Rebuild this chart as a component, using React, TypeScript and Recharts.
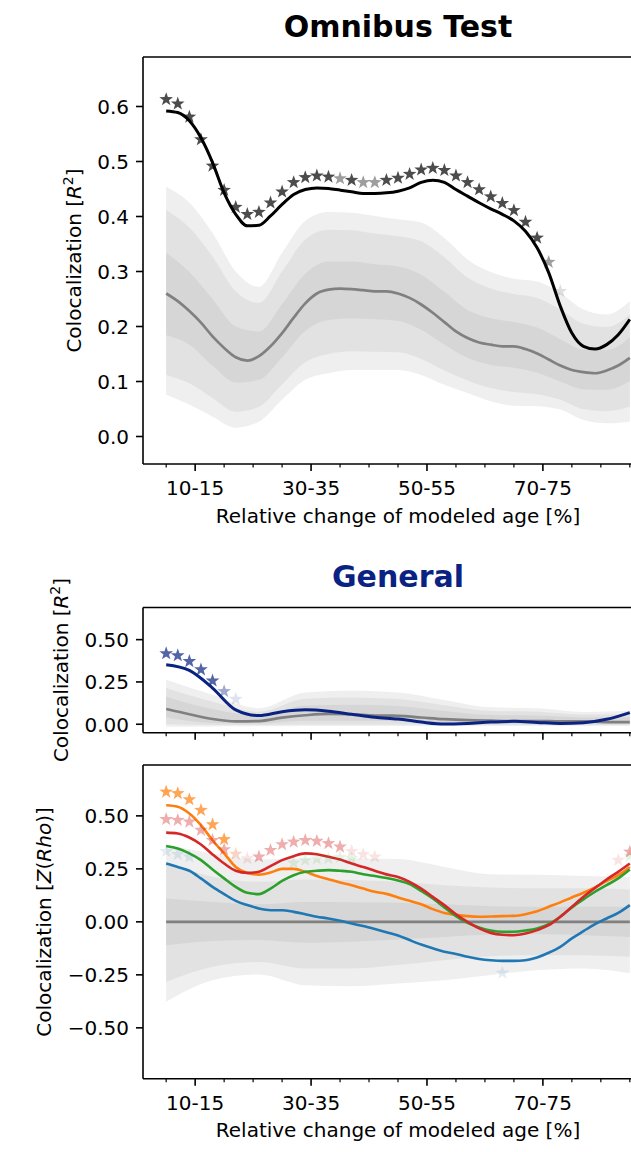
import React from 'react';
import { ComposedChart, Area, Line, Scatter, XAxis, YAxis, ReferenceLine } from 'recharts';

const FONT = '"DejaVu Sans", Verdana, sans-serif';

// relative change of modeled age [%]
const X_FINE = [5, 7, 9, 11, 13, 15, 17, 19, 21, 23, 25, 27, 29, 31, 33, 35, 37, 39, 41, 43, 45, 47, 49, 51, 53, 55, 57, 59, 61, 63, 65, 67, 69, 71, 73, 75, 77, 79, 81, 83, 85];
const X_MID = [5, 9, 13, 17, 21, 25, 29, 33, 37, 41, 45, 49, 53, 57, 61, 65, 69, 73, 77, 81, 85];
const X_COARSE = [5, 13, 21, 29, 37, 45, 53, 61, 69, 77, 85];
const X_TICKS = [5, 10, 15, 20, 25, 30, 35, 40, 45, 50, 55, 60, 65, 70, 75, 80, 85];
const X_LABEL_AT = [10, 30, 50, 70];
const X_LABEL_TEXT = ['10-15', '30-35', '50-55', '70-75'];
const X_DOMAIN = [1, 89];

// ---- Omnibus test (R^2) ----
const OMNI_OBSERVED = [0.592, 0.589, 0.574, 0.543, 0.498, 0.443, 0.404, 0.383, 0.384, 0.401, 0.422, 0.440, 0.449, 0.452, 0.451, 0.448, 0.445, 0.442, 0.442, 0.443, 0.446, 0.452, 0.462, 0.466, 0.462, 0.449, 0.437, 0.425, 0.414, 0.404, 0.392, 0.373, 0.343, 0.298, 0.237, 0.188, 0.164, 0.159, 0.167, 0.185, 0.213];
const OMNI_NULL_MEDIAN = [0.260, 0.246, 0.228, 0.207, 0.182, 0.161, 0.144, 0.138, 0.146, 0.164, 0.188, 0.216, 0.242, 0.260, 0.267, 0.269, 0.268, 0.266, 0.264, 0.264, 0.260, 0.252, 0.240, 0.225, 0.208, 0.191, 0.179, 0.171, 0.167, 0.164, 0.164, 0.159, 0.151, 0.140, 0.129, 0.121, 0.117, 0.115, 0.120, 0.129, 0.143];
const OMNI_STAR_X = [5, 7, 9, 11, 13, 15, 17, 19, 21, 23, 25, 27, 29, 31, 33, 35, 37, 39, 41, 43, 45, 47, 49, 51, 53, 55, 57, 59, 61, 63, 65, 67, 69, 71, 73];
const OMNI_STARS = [0.613, 0.605, 0.581, 0.540, 0.492, 0.448, 0.417, 0.404, 0.408, 0.425, 0.445, 0.462, 0.471, 0.474, 0.472, 0.469, 0.466, 0.462, 0.462, 0.466, 0.470, 0.477, 0.485, 0.488, 0.484, 0.474, 0.462, 0.449, 0.436, 0.424, 0.411, 0.390, 0.361, 0.317, 0.264];
const OMNI_STAR_SIG = [3, 3, 3, 3, 3, 3, 3, 3, 3, 3, 3, 3, 3, 3, 3, 2, 3, 2, 2, 3, 3, 3, 3, 3, 3, 3, 3, 3, 3, 3, 3, 3, 3, 2, 1];
const OMNI_OUTER_LO = [0.076, 0.058, 0.036, 0.016, 0.027, 0.067, 0.103, 0.115, 0.121, 0.121, 0.121, 0.112, 0.094, 0.079, 0.064, 0.056, 0.055, 0.049, 0.030, 0.024, 0.027];
const OMNI_OUTER_HI = [0.454, 0.425, 0.370, 0.300, 0.272, 0.334, 0.392, 0.408, 0.407, 0.401, 0.395, 0.389, 0.361, 0.322, 0.299, 0.287, 0.282, 0.261, 0.231, 0.222, 0.246];
const OMNI_MID_LO = [0.112, 0.097, 0.070, 0.045, 0.054, 0.095, 0.135, 0.150, 0.155, 0.154, 0.153, 0.141, 0.120, 0.102, 0.088, 0.081, 0.077, 0.067, 0.050, 0.046, 0.054];
const OMNI_MID_HI = [0.412, 0.380, 0.327, 0.264, 0.243, 0.300, 0.358, 0.376, 0.375, 0.369, 0.364, 0.355, 0.326, 0.289, 0.269, 0.259, 0.252, 0.231, 0.205, 0.199, 0.222];
const OMNI_INNER_LO = [0.184, 0.167, 0.129, 0.098, 0.103, 0.144, 0.192, 0.212, 0.215, 0.213, 0.210, 0.194, 0.167, 0.143, 0.130, 0.125, 0.116, 0.100, 0.086, 0.085, 0.101];
const OMNI_INNER_HI = [0.334, 0.299, 0.250, 0.200, 0.191, 0.241, 0.296, 0.318, 0.318, 0.313, 0.309, 0.294, 0.263, 0.230, 0.215, 0.208, 0.198, 0.177, 0.158, 0.157, 0.180];
const OMNI_Y_TICKS = [0, 0.1, 0.2, 0.3, 0.4, 0.5, 0.6];

// ---- General (R^2) ----
const GEN_OBSERVED = [0.352, 0.318, 0.214, 0.085, 0.051, 0.074, 0.085, 0.077, 0.059, 0.041, 0.031, 0.013, 0.001, 0.005, 0.013, 0.017, 0.011, 0.005, 0.009, 0.029, 0.069];
const GEN_NULL_MEDIAN = [0.090, 0.059, 0.031, 0.017, 0.019, 0.039, 0.053, 0.061, 0.059, 0.051, 0.050, 0.040, 0.030, 0.024, 0.021, 0.019, 0.019, 0.017, 0.017, 0.013, 0.013];
const GEN_STAR_X = [5, 7, 9, 11, 13, 15, 17];
const GEN_STARS = [0.418, 0.406, 0.372, 0.323, 0.257, 0.194, 0.148];
const GEN_STAR_SIG = [3, 3, 3, 3, 3, 2, 1];
const GEN_OUTER_LO = [-0.015, -0.013, -0.012, -0.010, -0.010, -0.010, -0.010, -0.010, -0.010, -0.010, -0.010];
const GEN_OUTER_HI = [0.263, 0.174, 0.095, 0.188, 0.198, 0.188, 0.144, 0.100, 0.095, 0.073, 0.080];
const GEN_MID_LO = [0.000, -0.004, -0.004, -0.002, -0.002, -0.002, -0.003, -0.004, -0.004, -0.004, -0.004];
const GEN_MID_HI = [0.214, 0.133, 0.074, 0.151, 0.158, 0.149, 0.112, 0.078, 0.074, 0.057, 0.061];
const GEN_INNER_LO = [0.040, 0.008, 0.005, 0.020, 0.020, 0.018, 0.008, 0.005, 0.005, 0.004, 0.003];
const GEN_INNER_HI = [0.163, 0.090, 0.052, 0.111, 0.115, 0.108, 0.078, 0.054, 0.051, 0.040, 0.041];
const GEN_Y_TICKS = [0, 0.25, 0.5];

// ---- Z(Rho) per component ----
const RHO_BLUE = [0.275, 0.259, 0.241, 0.205, 0.165, 0.131, 0.099, 0.079, 0.063, 0.055, 0.055, 0.047, 0.036, 0.024, 0.016, 0.005, -0.008, -0.020, -0.034, -0.049, -0.064, -0.086, -0.107, -0.125, -0.141, -0.152, -0.165, -0.175, -0.181, -0.184, -0.184, -0.181, -0.168, -0.146, -0.118, -0.078, -0.044, -0.011, 0.016, 0.042, 0.079];
const RHO_ORANGE = [0.550, 0.543, 0.511, 0.456, 0.385, 0.323, 0.259, 0.231, 0.223, 0.233, 0.250, 0.250, 0.236, 0.216, 0.201, 0.186, 0.173, 0.157, 0.142, 0.132, 0.115, 0.099, 0.083, 0.060, 0.042, 0.033, 0.027, 0.024, 0.025, 0.027, 0.028, 0.036, 0.050, 0.071, 0.092, 0.115, 0.137, 0.162, 0.192, 0.220, 0.259];
const RHO_GREEN = [0.358, 0.346, 0.323, 0.291, 0.247, 0.205, 0.165, 0.137, 0.131, 0.157, 0.193, 0.220, 0.236, 0.241, 0.244, 0.241, 0.236, 0.225, 0.216, 0.207, 0.195, 0.178, 0.146, 0.110, 0.068, 0.027, -0.005, -0.026, -0.041, -0.047, -0.047, -0.041, -0.031, -0.011, 0.024, 0.068, 0.106, 0.142, 0.173, 0.205, 0.247];
const RHO_RED = [0.421, 0.417, 0.398, 0.365, 0.318, 0.275, 0.241, 0.231, 0.236, 0.263, 0.291, 0.310, 0.323, 0.319, 0.307, 0.294, 0.275, 0.259, 0.241, 0.224, 0.212, 0.189, 0.157, 0.118, 0.079, 0.036, 0.000, -0.031, -0.052, -0.061, -0.063, -0.055, -0.039, -0.016, 0.024, 0.071, 0.118, 0.160, 0.200, 0.236, 0.275];
const RHO_NULL_MEDIAN = [0, 0, 0, 0, 0, 0, 0, 0, 0, 0, 0];
const RHO_OUTER_LO = [-0.377, -0.275, -0.248, -0.299, -0.304, -0.291, -0.275, -0.251, -0.228, -0.220, -0.243];
const RHO_OUTER_HI = [0.362, 0.323, 0.295, 0.299, 0.299, 0.296, 0.259, 0.225, 0.222, 0.216, 0.212];
const RHO_MID_LO = [-0.283, -0.212, -0.189, -0.220, -0.220, -0.204, -0.181, -0.162, -0.157, -0.157, -0.165];
const RHO_MID_HI = [0.283, 0.213, 0.189, 0.200, 0.197, 0.189, 0.173, 0.162, 0.158, 0.158, 0.153];
const RHO_INNER_LO = [-0.110, -0.090, -0.086, -0.099, -0.094, -0.083, -0.071, -0.061, -0.059, -0.063, -0.071];
const RHO_INNER_HI = [0.110, 0.094, 0.083, 0.094, 0.093, 0.090, 0.083, 0.074, 0.071, 0.071, 0.071];
const RHO_BLUE_STAR_X = [5, 7, 9, 63];
const RHO_BLUE_STARS = [0.333, 0.318, 0.307, -0.241];
const RHO_BLUE_SIG = [1, 1, 1, 1];
const RHO_ORANGE_STAR_X = [5, 7, 9, 11, 13, 15, 17];
const RHO_ORANGE_STARS = [0.613, 0.606, 0.577, 0.527, 0.459, 0.389, 0.322];
const RHO_ORANGE_SIG = [3, 3, 3, 3, 3, 3, 1];
const RHO_GREEN_STAR_X = [27, 29, 31, 33, 35, 37, 85];
const RHO_GREEN_STARS = [0.278, 0.291, 0.297, 0.299, 0.304, 0.299, 0.310];
const RHO_GREEN_SIG = [1, 1, 1, 1, 1, 1, 1];
const RHO_RED_STAR_X = [5, 7, 9, 11, 13, 15, 17, 19, 21, 23, 25, 27, 29, 31, 33, 35, 37, 39, 41, 83, 85];
const RHO_RED_STARS = [0.484, 0.480, 0.472, 0.433, 0.385, 0.341, 0.319, 0.299, 0.307, 0.338, 0.365, 0.377, 0.385, 0.381, 0.370, 0.354, 0.333, 0.318, 0.307, 0.291, 0.330];
const RHO_RED_SIG = [2, 2, 2, 2, 2, 2, 1, 1, 2, 2, 2, 2, 2, 2, 2, 2, 1, 1, 1, 1, 2];
const RHO_Y_TICKS = [-0.5, -0.25, 0, 0.25, 0.5];

const NAVY = '#0a2382';
const C_BLUE = '#1f77b4';
const C_ORANGE = '#ff7f0e';
const C_GREEN = '#2ca02c';
const C_RED = '#d62728';
const BAND_OUTER = '#efefef';
const BAND_MID = '#e2e2e2';
const BAND_INNER = '#d6d6d6';
const SPINE = { stroke: '#000', strokeWidth: 1.6 };
const SIG_ALPHA: Record<number, number> = { 3: 0.7, 2: 0.38, 1: 0.13 };

const pts = (xs: number[], ys: number[]) => xs.map((x, i) => ({ x, y: ys[i] }));
const band = (xs: number[], lo: number[], hi: number[]) => xs.map((x, i) => ({ x, y: [lo[i], hi[i]] }));
const starPts = (xs: number[], ys: number[], sig: number[]) => xs.map((x, i) => ({ x, y: ys[i], sig: sig[i] }));

// matplotlib-like '*' marker
const starShape = (color: string, r = 7.2) => (props: any) => {
  const { cx, cy, payload } = props;
  if (cx == null || cy == null) return <g />;
  const p: string[] = [];
  for (let k = 0; k < 10; k++) {
    const rad = k % 2 === 0 ? r : r * 0.4;
    const a = -Math.PI / 2 + (k * Math.PI) / 5;
    p.push(`${cx + rad * Math.cos(a)},${cy + rad * Math.sin(a)}`);
  }
  return <polygon points={p.join(' ')} fill={color} fillOpacity={SIG_ALPHA[payload.sig]} />;
};

const xTick = (showLabel: boolean) => (props: any) => {
  const { x, y, payload } = props;
  const i = X_LABEL_AT.indexOf(payload.value);
  const major = i >= 0;
  return (
    <g>
      <line x1={x} x2={x} y1={y} y2={y + (major ? 7 : 3.5)} stroke="#000" strokeWidth={major ? 1.6 : 1.2} />
      {showLabel && major && (
        <text x={x} y={y + 31} textAnchor="middle" fontFamily={FONT} fontSize={20} fill="#000">
          {X_LABEL_TEXT[i]}
        </text>
      )}
    </g>
  );
};

const yTick = (fmt: (v: number) => string) => (props: any) => {
  const { x, y, payload } = props;
  return (
    <g>
      <line x1={x - 7} x2={x} y1={y} y2={y} stroke="#000" strokeWidth={1.6} />
      <text x={x - 14} y={y + 7.3} textAnchor="end" fontFamily={FONT} fontSize={20} fill="#000">
        {fmt(payload.value)}
      </text>
    </g>
  );
};

const fmt1 = (v: number) => v.toFixed(1);
const fmt2 = (v: number) => v.toFixed(2).replace('-', '\u2212');

const axes = (yDomain: number[], yTicks: number[], fmt: (v: number) => string, showX: boolean, xh: number) => [
  <XAxis key="x" type="number" dataKey="x" domain={X_DOMAIN} allowDataOverflow ticks={X_TICKS} interval={0}
    tick={xTick(showX)} tickSize={0} tickMargin={0} tickLine={false} axisLine={SPINE} height={xh} />,
  <YAxis key="y" type="number" domain={yDomain} allowDataOverflow ticks={yTicks} interval={0}
    tick={yTick(fmt)} tickSize={0} tickMargin={0} tickLine={false} axisLine={SPINE} width={143} />,
  <ReferenceLine key="top" y={yDomain[1]} stroke="#000" strokeWidth={1.6} />,
];

const bandAreas = (xs: number[], olo: number[], ohi: number[], mlo: number[], mhi: number[], ilo: number[], ihi: number[]) => [
  <Area key="bo" data={band(xs, olo, ohi)} dataKey="y" type="monotone" stroke="none" fill={BAND_OUTER} fillOpacity={1} isAnimationActive={false} activeDot={false} />,
  <Area key="bm" data={band(xs, mlo, mhi)} dataKey="y" type="monotone" stroke="none" fill={BAND_MID} fillOpacity={1} isAnimationActive={false} activeDot={false} />,
  <Area key="bi" data={band(xs, ilo, ihi)} dataKey="y" type="monotone" stroke="none" fill={BAND_INNER} fillOpacity={1} isAnimationActive={false} activeDot={false} />,
];

const line = (key: string, xs: number[], ys: number[], color: string, w: number) => (
  <Line key={key} data={pts(xs, ys)} dataKey="y" type="monotone" stroke={color} strokeWidth={w} dot={false} activeDot={false} isAnimationActive={false} />
);

const stars = (key: string, xs: number[], ys: number[], sig: number[], color: string) => (
  <Scatter key={key} data={starPts(xs, ys, sig)} dataKey="y" shape={starShape(color)} isAnimationActive={false} />
);

const yLabel = (cx: number, cy: number, content: React.ReactNode) => (
  <text x={cx} y={cy + 6} transform={`rotate(-90 ${cx} ${cy})`} textAnchor="middle" fontFamily={FONT} fontSize={20} fill="#000">
    {content}
  </text>
);

export default function App() {
  const R2 = (
    <>
      Colocalization [<tspan fontStyle="italic">R</tspan>
      <tspan fontSize={14} dy={-8}>2</tspan>
      <tspan dy={8}>]</tspan>
    </>
  );
  return (
    <div style={{ position: 'absolute', left: 0, top: 0, width: 631, height: 1152, overflow: 'hidden', background: '#fff' }}>
      <div style={{ position: 'absolute', left: 0, top: 0 }}>
        <ComposedChart width={653} height={534} margin={{ top: 57, right: 0, bottom: 0, left: 0 }}>
          {axes([-0.05, 0.69], OMNI_Y_TICKS, fmt1, true, 70)}
          {bandAreas(X_MID, OMNI_OUTER_LO, OMNI_OUTER_HI, OMNI_MID_LO, OMNI_MID_HI, OMNI_INNER_LO, OMNI_INNER_HI)}
          {line('omed', X_FINE, OMNI_NULL_MEDIAN, '#808080', 2.7)}
          {line('oobs', X_FINE, OMNI_OBSERVED, '#000', 3)}
          {stars('ostar', OMNI_STAR_X, OMNI_STARS, OMNI_STAR_SIG, '#000')}
        </ComposedChart>
      </div>

      <div style={{ position: 'absolute', left: 0, top: 600 }}>
        <ComposedChart width={653} height={153} margin={{ top: 7.5, right: 0, bottom: 0, left: 0 }}>
          {axes([-0.05, 0.69], GEN_Y_TICKS, fmt2, false, 20.3)}
          {bandAreas(X_COARSE, GEN_OUTER_LO, GEN_OUTER_HI, GEN_MID_LO, GEN_MID_HI, GEN_INNER_LO, GEN_INNER_HI)}
          {line('gmed', X_MID, GEN_NULL_MEDIAN, '#808080', 2.7)}
          {line('gobs', X_MID, GEN_OBSERVED, NAVY, 3)}
          {stars('gstar', GEN_STAR_X, GEN_STARS, GEN_STAR_SIG, NAVY)}
        </ComposedChart>
      </div>

      <div style={{ position: 'absolute', left: 0, top: 760 }}>
        <ComposedChart width={653} height={389} margin={{ top: 5, right: 0, bottom: 0, left: 0 }}>
          {axes([-0.74, 0.74], RHO_Y_TICKS, fmt2, true, 70.3)}
          {bandAreas(X_COARSE, RHO_OUTER_LO, RHO_OUTER_HI, RHO_MID_LO, RHO_MID_HI, RHO_INNER_LO, RHO_INNER_HI)}
          {line('rmed', X_COARSE, RHO_NULL_MEDIAN, '#808080', 2.7)}
          {line('rblue', X_FINE, RHO_BLUE, C_BLUE, 2.6)}
          {line('rorange', X_FINE, RHO_ORANGE, C_ORANGE, 2.6)}
          {line('rgreen', X_FINE, RHO_GREEN, C_GREEN, 2.6)}
          {line('rred', X_FINE, RHO_RED, C_RED, 2.6)}
          {stars('sblue', RHO_BLUE_STAR_X, RHO_BLUE_STARS, RHO_BLUE_SIG, C_BLUE)}
          {stars('sorange', RHO_ORANGE_STAR_X, RHO_ORANGE_STARS, RHO_ORANGE_SIG, C_ORANGE)}
          {stars('sgreen', RHO_GREEN_STAR_X, RHO_GREEN_STARS, RHO_GREEN_SIG, C_GREEN)}
          {stars('sred', RHO_RED_STAR_X, RHO_RED_STARS, RHO_RED_SIG, C_RED)}
        </ComposedChart>
      </div>

      <svg width={631} height={1152} style={{ position: 'absolute', left: 0, top: 0, pointerEvents: 'none' }}>
        <text x={398} y={36.5} textAnchor="middle" fontFamily={FONT} fontSize={30} fontWeight="bold" fill="#000">Omnibus Test</text>
        <text x={398} y={587} textAnchor="middle" fontFamily={FONT} fontSize={30} fontWeight="bold" fill={NAVY}>General</text>
        <text x={398} y={522.5} textAnchor="middle" fontFamily={FONT} fontSize={20} fill="#000">Relative change of modeled age [%]</text>
        <text x={398} y={1137.2} textAnchor="middle" fontFamily={FONT} fontSize={20} fill="#000">Relative change of modeled age [%]</text>
        {yLabel(75, 260.5, R2)}
        {yLabel(62, 670, R2)}
        {yLabel(45, 922, (
          <>
            Colocalization [<tspan fontStyle="italic">Z</tspan>(<tspan fontStyle="italic">Rho</tspan>)]
          </>
        ))}
      </svg>
    </div>
  );
}
